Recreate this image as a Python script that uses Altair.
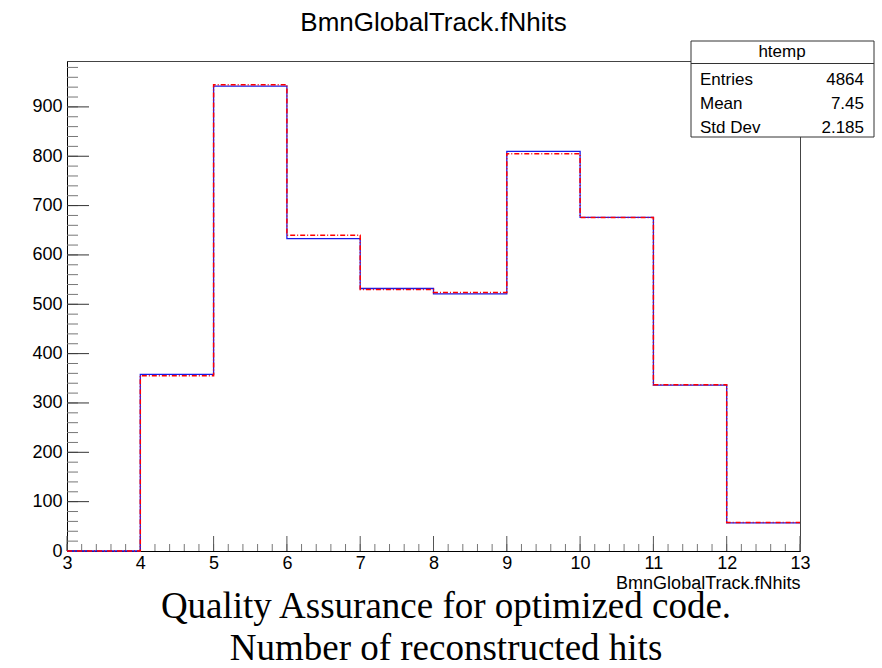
import altair as alt
import pandas as pd

# ---- data ----
bin_edges = [3, 4, 5, 6, 7, 8, 9, 10, 11, 12, 13]
counts_blue = [0, 358, 942, 633, 532, 521, 810, 676, 336, 57]
counts_red = [0, 355, 945, 640, 530, 524, 805, 676, 337, 58]
stats_names = ["Entries", "Mean", "Std Dev"]
stats_values = ["4864", "7.45", "2.185"]
x_tick_labels = [3, 4, 5, 6, 7, 8, 9, 10, 11, 12, 13]
y_tick_labels = [0, 100, 200, 300, 400, 500, 600, 700, 800, 900]
y_minor_ticks = list(range(0, 1000, 20))
x_minor_ticks = [round(3 + 0.2 * i, 1) for i in range(51)]
caption_lines = ["Quality Assurance for optimized code.", "Number of reconstructed hits"]
hist_name = "htemp"
var_name = "BmnGlobalTrack.fNhits"

W, H = 733, 490
SANS = "Liberation Sans"
SERIF = "Liberation Serif"


def step_table(series):
    rows = [{"x": e, "n": c} for e, c in zip(bin_edges[:-1], series)]
    rows.append({"x": bin_edges[-1], "n": series[-1]})
    return pd.DataFrame(rows)


xscale = alt.Scale(domain=[3, 13], nice=False, zero=False)
yscale = alt.Scale(domain=[0, 993], nice=False, zero=False)

xaxis = alt.Axis(values=x_tick_labels, ticks=False, grid=False, domain=True,
                 domainColor="black", labelFont=SANS, labelFontSize=18,
                 labelColor="black", labelPadding=3, labelFlush=False, format="d",
                 title=var_name, titleFont=SANS, titleFontSize=18,
                 titleFontWeight="normal", titleColor="black",
                 titleAnchor="end", titlePadding=2)
yaxis = alt.Axis(values=y_tick_labels, ticks=False, grid=False, domain=True,
                 domainColor="black", labelFont=SANS, labelFontSize=18,
                 labelColor="black", labelPadding=5, format="d", title=None)

blue = alt.Chart(step_table(counts_blue)).mark_line(
    interpolate="step-after", color="#1a1ae6", strokeWidth=1.3
).encode(
    x=alt.X("x:Q", scale=xscale, axis=xaxis),
    y=alt.Y("n:Q", scale=yscale, axis=yaxis),
)

red = alt.Chart(step_table(counts_red)).mark_line(
    interpolate="step-after", color="#ff0000", strokeWidth=1.5, strokeDash=[5, 2, 1, 2]
).encode(
    x=alt.X("x:Q", scale=xscale, axis=xaxis),
    y=alt.Y("n:Q", scale=yscale, axis=yaxis),
)

# inward ROOT-style ticks
def y_ticks(vals, length, color):
    return alt.Chart(pd.DataFrame({"v": vals})).mark_rule(color=color, strokeWidth=1).encode(
        y=alt.Y("v:Q", scale=yscale, axis=yaxis),
        x=alt.value(0), x2=alt.value(length),
    )

def x_ticks(vals, length, color):
    return alt.Chart(pd.DataFrame({"v": vals})).mark_rule(color=color, strokeWidth=1).encode(
        x=alt.X("v:Q", scale=xscale, axis=xaxis),
        y=alt.value(H), y2=alt.value(H - length),
    )

ticks = [
    y_ticks(y_minor_ticks, 11, "#777777"),
    y_ticks(y_tick_labels, 22, "#333333"),
    x_ticks(x_minor_ticks, 7, "#777777"),
    x_ticks(x_tick_labels, 15, "#555555"),
]

one = pd.DataFrame({"k": [0]})

# main title
title = alt.Chart(one).mark_text(font=SANS, fontSize=26, color="black",
                                 align="center", baseline="alphabetic").encode(
    x=alt.value(366.5), y=alt.value(-30), text=alt.value(var_name)
)

# stats box
box = alt.Chart(one).mark_rect(fill="white", stroke="#333333", strokeWidth=1).encode(
    x=alt.value(624), x2=alt.value(807), y=alt.value(-20), y2=alt.value(76)
)
box_sep = alt.Chart(one).mark_rule(color="#333333", strokeWidth=1).encode(
    x=alt.value(624), x2=alt.value(807), y=alt.value(2.5)
)
box_title = alt.Chart(one).mark_text(font=SANS, fontSize=17, color="black",
                                     align="center", baseline="alphabetic").encode(
    x=alt.value(715), y=alt.value(-4), text=alt.value(hist_name)
)
stat_layers = []
for i, (nm, vl) in enumerate(zip(stats_names, stats_values)):
    yb = 24 + 24 * i
    stat_layers.append(alt.Chart(one).mark_text(font=SANS, fontSize=17, color="black",
                                                align="left", baseline="alphabetic").encode(
        x=alt.value(633), y=alt.value(yb), text=alt.value(nm)))
    stat_layers.append(alt.Chart(one).mark_text(font=SANS, fontSize=17, color="black",
                                                align="right", baseline="alphabetic").encode(
        x=alt.value(797), y=alt.value(yb), text=alt.value(vl)))

caption = alt.Chart(one).mark_text(font=SERIF, fontSize=37, color="black",
                                   align="center", baseline="alphabetic", lineHeight=42).encode(
    x=alt.value(379), y=alt.value(557), text=alt.value(caption_lines)
)

chart = alt.layer(
    *ticks, blue, red, box, box_sep, box_title, *stat_layers, title, caption
).properties(
    width=W, height=H,
    autosize=alt.AutoSizeParams(type="none"),
    padding={"left": 67, "top": 61, "right": 82, "bottom": 117},
    background="white",
).configure_view(stroke="#444444", strokeWidth=1)

chart.save("out.html", embed_options={"renderer": "svg", "actions": False})
